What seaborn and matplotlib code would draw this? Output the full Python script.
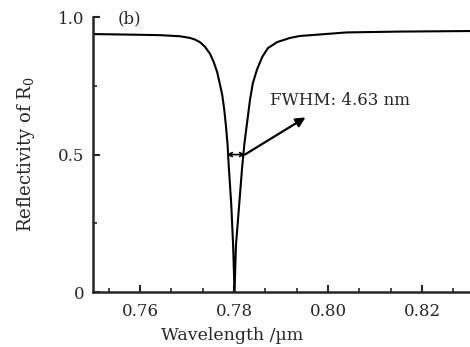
import pandas as pd
import matplotlib
matplotlib.use('Agg')
import matplotlib.pyplot as plt
import seaborn as sns
from matplotlib.ticker import AutoMinorLocator

sns.set_style('ticks')
plt.rcParams['font.family'] = ['DejaVu Serif']
plt.rcParams['mathtext.fontset'] = 'dejavuserif'

# 读取的曲线数据 (波长 µm, 反射率)
wavelength = [0.7500, 0.7579, 0.7643, 0.7685, 0.7706, 0.7717, 0.7728, 0.7738,
              0.7749, 0.7757, 0.7764, 0.7770, 0.7775, 0.7779, 0.7783, 0.7786,
              0.7789, 0.7794, 0.7798, 0.7801, 0.7804, 0.7811, 0.7817, 0.7822,
              0.7828, 0.7834, 0.7840, 0.7849, 0.7860, 0.7872, 0.7892, 0.7919,
              0.7940, 0.8040, 0.8153, 0.8302]
reflectivity = [0.938, 0.936, 0.934, 0.930, 0.924, 0.918, 0.908, 0.892,
                0.866, 0.835, 0.800, 0.755, 0.715, 0.665, 0.600, 0.540,
                0.450, 0.320, 0.170, 0.000, 0.170, 0.320, 0.450, 0.540,
                0.620, 0.700, 0.760, 0.810, 0.855, 0.887, 0.909, 0.924,
                0.931, 0.944, 0.947, 0.949]
xticks = [0.76, 0.78, 0.80, 0.82]
xtick_labels = ['0.76', '0.78', '0.80', '0.82']
yticks = [0, 0.5, 1.0]
ytick_labels = ['0', '0.5', '1.0']

data = pd.DataFrame({'wl': wavelength, 'R': reflectivity})

fig = plt.figure(figsize=(4.70, 3.47), dpi=100)
ax = fig.add_axes([0.198, 0.158, 0.802, 0.793])
sns.lineplot(data=data, x='wl', y='R', color='black', linewidth=1.5, ax=ax)

ax.set_xlim(0.75, 0.8302)
ax.set_ylim(0, 1.0)
ax.set_xticks(xticks)
ax.set_xticklabels(xtick_labels)
ax.set_yticks(yticks)
ax.set_yticklabels(ytick_labels)
ax.xaxis.set_minor_locator(AutoMinorLocator(3))
ax.yaxis.set_minor_locator(AutoMinorLocator(2))
ax.tick_params(which='major', direction='in', length=5, width=1.5, labelsize=12)
ax.tick_params(axis='x', which='major', pad=8)
ax.tick_params(axis='y', which='major', pad=6)
ax.tick_params(which='minor', direction='in', length=3, width=1.2)
for s in ['top', 'right']:
    ax.spines[s].set_visible(False)
for s in ['left', 'bottom']:
    ax.spines[s].set_linewidth(1.8)

ax.set_xlabel('Wavelength /µm', fontsize=12.5)
ax.set_ylabel('Reflectivity of R$_0$', fontsize=13)
ax.xaxis.set_label_coords(0.37, -0.125)
ax.yaxis.set_label_coords(-0.15, 0.5)

# FWHM 标注
ax.annotate('', xy=(0.7784, 0.5), xytext=(0.7824, 0.5),
            arrowprops=dict(arrowstyle='<->', color='black', lw=1.2,
                            mutation_scale=7, shrinkA=0, shrinkB=0))
ax.annotate('', xy=(0.7952, 0.635), xytext=(0.7823, 0.5),
            arrowprops=dict(arrowstyle='-|>', color='black', lw=1.6,
                            mutation_scale=14, shrinkA=0, shrinkB=0))
ax.text(0.7877, 0.695, 'FWHM: 4.63 nm', fontsize=12, va='center', ha='left')
ax.text(0.7552, 0.995, '(b)', fontsize=12, va='center', ha='left')

fig.savefig('out.png', dpi=100)
